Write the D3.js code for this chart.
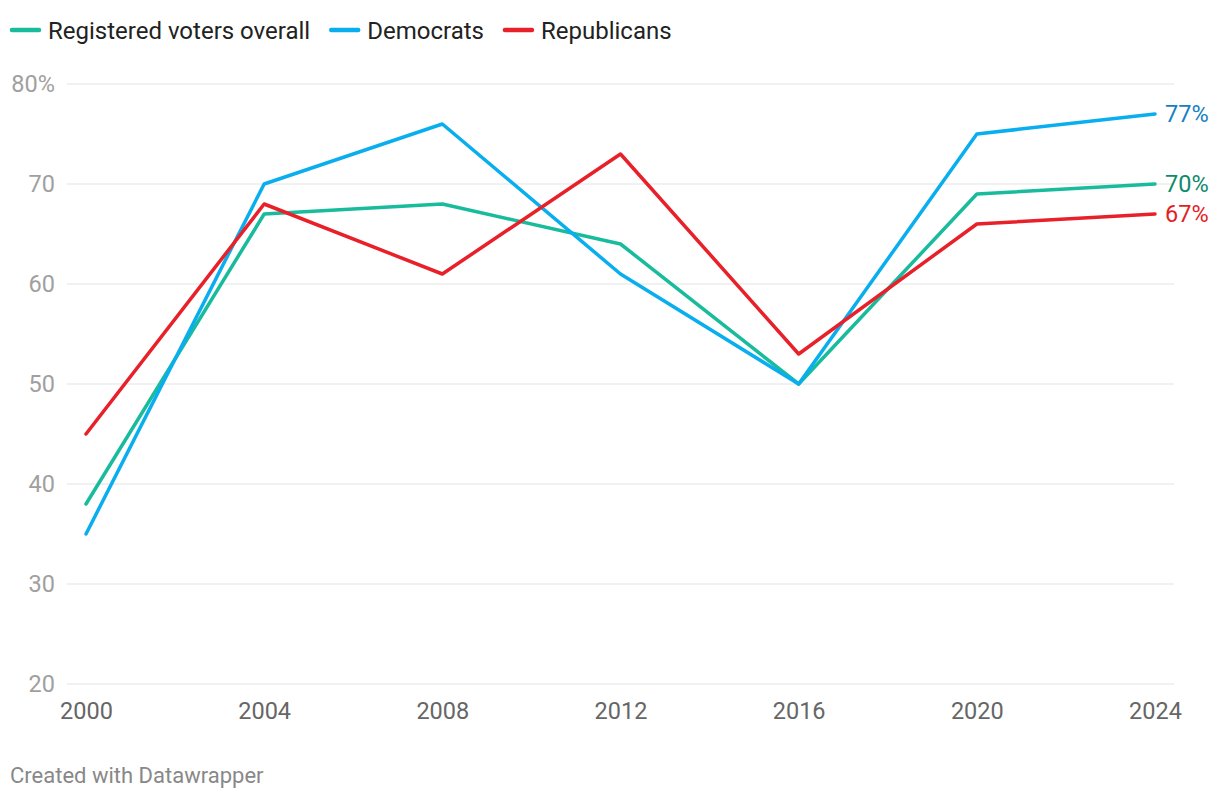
<!DOCTYPE html>
<html><head><meta charset="utf-8">
<script src="https://cdn.jsdelivr.net/npm/d3@7"></script>
<style>body{margin:0;background:#fff;font-family:Roboto,sans-serif;}</style>
</head><body><svg id="c" width="1220" height="800"></svg>
<script>
const years = [2000, 2004, 2008, 2012, 2016, 2020, 2024];
const overall = [38, 67, 68, 64, 50, 69, 70];
const democrats = [35, 70, 76, 61, 50, 75, 77];
const republicans = [45, 68, 61, 73, 53, 66, 67];
const yTicks = [20, 30, 40, 50, 60, 70, 80];
const seriesNames = ["Registered voters overall", "Democrats", "Republicans"];
const lineColors = ["#18bc9c", "#09aeef", "#e8202a"];
const labelColors = ["#0e8a6d", "#1680c4", "#e31e24"];

const svg = d3.select("#c");
const x = d3.scaleLinear().domain([2000, 2024]).range([86, 1155]);
const y = d3.scaleLinear().domain([20, 80]).range([684, 84]);

// gridlines
svg.append("g").selectAll("line").data(yTicks).join("line")
  .attr("x1", 67).attr("x2", 1174)
  .attr("y1", d => y(d)).attr("y2", d => y(d))
  .attr("stroke", "#e3e3e3").attr("stroke-width", 1.2);
svg.append("g").selectAll("text").data(yTicks).join("text")
  .attr("x", 55).attr("y", d => y(d)).attr("dy", "0.36em")
  .attr("text-anchor", "end").attr("font-size", 23.5).attr("fill", "#a0a0a0")
  .text(d => d === 80 ? "80%" : d);

// x axis labels
const xAxis = d3.axisBottom(x).tickValues(years).tickFormat(d3.format("d")).tickSize(0).tickPadding(0);
const gx = svg.append("g").attr("transform", "translate(0,711)").call(xAxis);
gx.select(".domain").remove();
gx.selectAll("text").attr("font-size", 23.5).attr("fill", "#666").attr("font-family", "Roboto").attr("dy", "0.36em");

const all = [overall, democrats, republicans];
const line = d3.line().x((d, i) => x(years[i])).y(d => y(d));
[0, 1, 2].forEach(k => {
  svg.append("path").datum(all[k]).attr("d", line)
    .attr("fill", "none").attr("stroke", lineColors[k]).attr("stroke-width", 3.5)
    .attr("stroke-linejoin", "round").attr("stroke-linecap", "round");
});
// end labels
all.forEach((s, k) => {
  svg.append("text").attr("x", x(2024) + 10).attr("y", y(s[s.length - 1])).attr("dy", "0.36em")
    .attr("font-size", 23.5).attr("fill", labelColors[k]).text(s[s.length - 1] + "%");
});

// legend
let lx = 12;
seriesNames.forEach((n, k) => {
  svg.append("line").attr("x1", lx).attr("x2", lx + 27).attr("y1", 30).attr("y2", 30)
    .attr("stroke", lineColors[k]).attr("stroke-width", 4.5).attr("stroke-linecap", "round");
  const t = svg.append("text").attr("x", lx + 36).attr("y", 30).attr("dy", "0.36em")
    .attr("font-size", 24).attr("fill", "#222").text(n);
  lx = lx + 36 + t.node().getComputedTextLength() + 21;
});

svg.append("text").attr("x", 10).attr("y", 783).attr("font-size", 22).attr("fill", "#888")
  .text("Created with Datawrapper");
</script></body></html>
